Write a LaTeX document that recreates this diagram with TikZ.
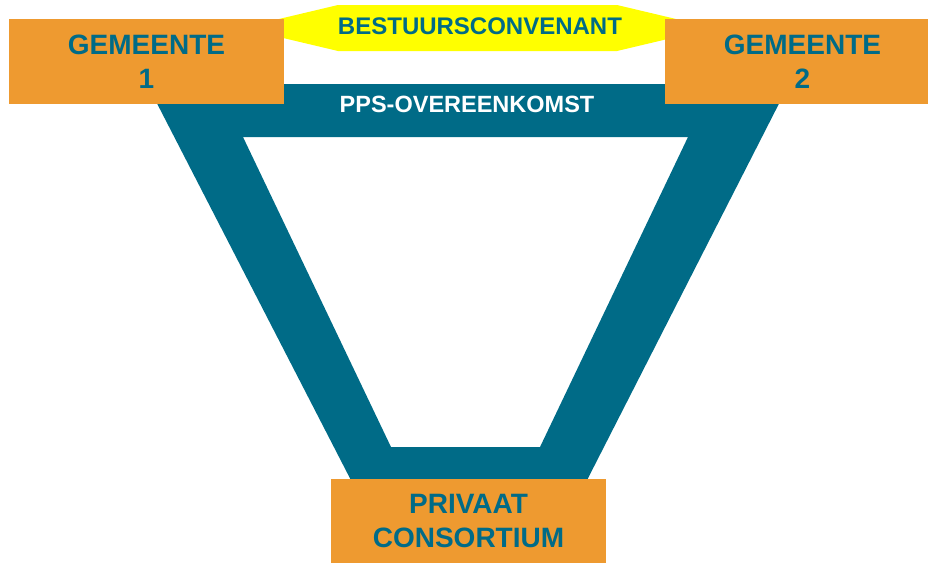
\documentclass[tikz,border=0pt]{standalone}
\usepackage{fontspec}
\setmainfont{Liberation Sans}
\definecolor{petrol}{HTML}{006B87}
\definecolor{oranje}{HTML}{EE9A30}
\definecolor{geel}{HTML}{FFFF00}

\begin{document}
\begin{tikzpicture}[x=1pt,y=-1pt,
  vak/.style={fill=oranje,text=petrol,align=center,inner sep=0pt,
    font=\bfseries\fontsize{28}{34}\selectfont}]
\useasboundingbox (0,0) rectangle (928,563);

% trapezium
\fill[petrol,even odd rule] (147,84) -- (789,84) -- (582,490) -- (356,490) -- cycle
  (243,137) -- (688,137) -- (540,447) -- (391,447) -- cycle;
\node[text=white,font=\bfseries\fontsize{23.5}{26}\selectfont] (pps) at (467,104.5) {PPS-OVEREENKOMST};

% convenant
\fill[geel] (241,28) -- (338,5) -- (617,5) -- (714,28) -- (617,51) -- (338,51) -- cycle;
\node[text=petrol,font=\bfseries\fontsize{24}{28}\selectfont] (conv) at (480,26.5) {BESTUURSCONVENANT};

% partijen
\node[vak,minimum width=275,minimum height=85] (gem1) at (146.5,61.5) {GEMEENTE\\1};
\node[vak,minimum width=275,minimum height=85] (gem2) at (802.5,61.5) {GEMEENTE\\2};
\node[vak,minimum width=275,minimum height=84] (priv) at (468.5,521) {PRIVAAT\\CONSORTIUM};
\end{tikzpicture}
\end{document}
